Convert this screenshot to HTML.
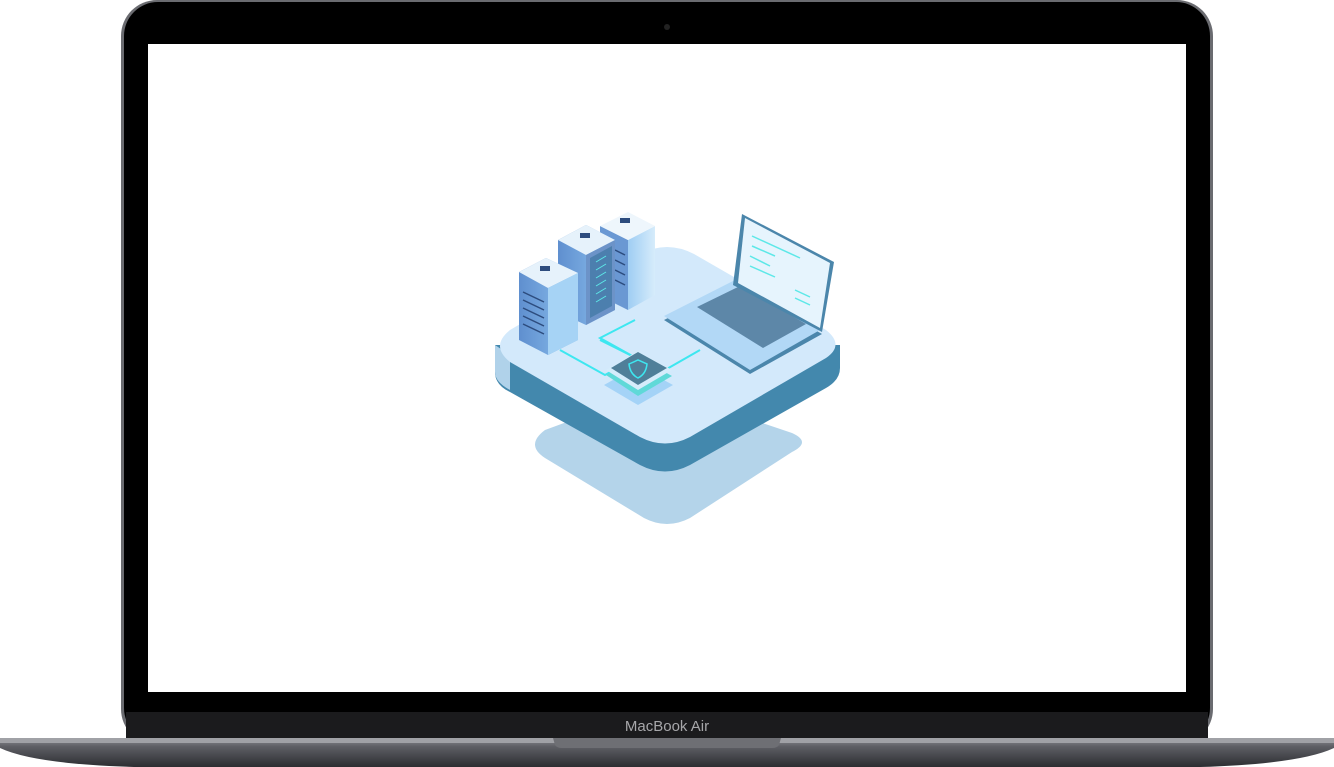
<!DOCTYPE html>
<html><head><meta charset="utf-8"><style>
html,body{margin:0;padding:0;background:#fff;width:1334px;height:767px;overflow:hidden;font-family:"Liberation Sans",sans-serif}
</style></head><body>
<svg width="1334" height="767" viewBox="0 0 1334 767" xmlns="http://www.w3.org/2000/svg" style="position:absolute;left:0;top:0">
<defs>
<linearGradient id="base" x1="0" y1="0" x2="0" y2="1">
<stop offset="0" stop-color="#8c8d92"/><stop offset="0.3" stop-color="#5d5e64"/><stop offset="1" stop-color="#2c2d31"/></linearGradient>
<linearGradient id="srv" x1="0" y1="0" x2="1" y2="0">
<stop offset="0" stop-color="#5f8fcf"/><stop offset="1" stop-color="#8ec2ef"/></linearGradient>
<linearGradient id="srv2" x1="0" y1="0" x2="1" y2="0">
<stop offset="0" stop-color="#9fcdf3"/><stop offset="1" stop-color="#d6ecfb"/></linearGradient>
</defs>
<rect x="121" y="0" width="1092" height="745" rx="36" fill="#6a6b70"/>
<rect x="124" y="2" width="1086" height="740" rx="34" fill="#000"/>
<rect x="126" y="712" width="1082" height="28" fill="#1b1b1d"/>
<rect x="148" y="44" width="1038" height="648" fill="#fff"/>
<circle cx="667" cy="27" r="3" fill="#222"/>
<text x="667" y="731" text-anchor="middle" font-size="15" fill="#a7a7aa" font-family="Liberation Sans,sans-serif">MacBook Air</text>
<path d="M0 738 L1334 738 L1334 748 Q1300 764 1200 767 L134 767 Q34 764 0 748 Z" fill="url(#base)"/>
<rect x="0" y="738" width="1334" height="5" fill="#a0a1a6"/>
<path d="M553 738 L781 738 L779 745 Q777 748 772 748 L562 748 Q557 748 555 745 Z" fill="#6e6f74"/>
<path d="M545 430 L640 395 Q667 388 694 400 L792 433 Q812 442 792 452 L690 518 Q667 530 644 518 L545 458 Q525 445 545 430 Z" fill="#b4d4ea"/>
<path d="M495 345 L495 372 Q495 385 510 392 L640 465 Q665 478 690 465 L826 388 Q840 380 840 368 L840 345 Z" fill="#4388ad"/>
<path d="M495 345 L495 372 Q495 382 510 390 L510 355 Z" fill="#b0d2ea"/>
<path d="M510 330 L640 254 Q667 240 694 254 L826 330 Q845 345 826 358 L690 437 Q665 450 640 437 L510 362 Q490 346 510 330 Z" fill="#d3e9fb"/>
<g stroke="#3de7f0" stroke-width="2" fill="none">
<path d="M560 350 L605 375 L636 358 L600 340"/>
<path d="M636 358 L600 338 L635 320"/>
<path d="M665 370 L700 350"/>
</g>
<path d="M604 385 L638 366 L673 385 L638 405 Z" fill="#9fd0f6" opacity="0.9"/>
<path d="M606 375 L638 357 L672 376 L638 396 Z" fill="#5fd9d8"/>
<path d="M606 370 L638 351 L672 370 L638 390 Z" fill="#d5ecfb"/>
<path d="M611 368 L638 352 L667 368 L638 385 Z" fill="#4f7f99"/>
<path d="M629 364 L638 360 L647 364 Q646 374 638 378 Q630 374 629 364 Z" fill="none" stroke="#3de7f0" stroke-width="1.5"/>
<!-- back server -->
<path d="M600 226 L628 240 L628 310 L600 296 Z" fill="#6a98d3"/>
<path d="M628 240 L655 226 L655 295 L628 310 Z" fill="url(#srv2)"/>
<path d="M600 226 L628 212 L655 226 L628 240 Z" fill="#eef6fc"/>
<g stroke="#2d4c7e" stroke-width="1.5"><line x1="615" y1="250" x2="625" y2="255"/><line x1="615" y1="260" x2="625" y2="265"/><line x1="615" y1="270" x2="625" y2="275"/><line x1="615" y1="280" x2="625" y2="285"/></g>
<path d="M558 240 L586 225 L615 240 L615 310 L586 325 L558 312 Z" fill="url(#srv)"/>
<path d="M558 240 L586 225 L615 240 L586 255 Z" fill="#e6f2fb"/>
<path d="M586 255 L615 240 L615 310 L586 325 Z" fill="#6c93c8"/>
<path d="M590 258 L612 246 L612 306 L590 318 Z" fill="#4c7fae"/>
<g stroke="#5de8e8" stroke-width="1"><line x1="596" y1="262" x2="606" y2="256"/><line x1="596" y1="270" x2="606" y2="264"/><line x1="596" y1="278" x2="606" y2="272"/><line x1="596" y1="286" x2="606" y2="280"/><line x1="596" y1="294" x2="606" y2="288"/><line x1="596" y1="302" x2="606" y2="296"/></g>
<path d="M519 272 L546 258 L578 273 L578 340 L548 355 L519 340 Z" fill="url(#srv)"/>
<path d="M519 272 L546 258 L578 273 L548 288 Z" fill="#e6f2fb"/>
<path d="M548 288 L578 273 L578 340 L548 355 Z" fill="#a6d3f5"/>
<g stroke="#2d4c7e" stroke-width="1.5"><line x1="523" y1="292" x2="544" y2="302"/><line x1="523" y1="300" x2="544" y2="310"/><line x1="523" y1="308" x2="544" y2="318"/><line x1="523" y1="316" x2="544" y2="326"/><line x1="523" y1="324" x2="544" y2="334"/></g>
<g fill="#2d4c7e"><rect x="540" y="266" width="10" height="5"/><rect x="580" y="233" width="10" height="5"/><rect x="620" y="218" width="10" height="5"/></g>
<path d="M664 320 L735 284 L822 334 L750 374 Z" fill="#4b86ab"/>
<path d="M664 316 L735 280 L820 330 L750 370 Z" fill="#b2d8f6"/>
<path d="M697 307 L740 286 L806 324 L763 348 Z" fill="#5d87a8"/>
<path d="M733 285 L742 214 L834 262 L822 332 Z" fill="#4b86ab"/>
<path d="M738 283 L745 218 L830 263 L820 328 Z" fill="#e6f4fd"/>
<g stroke="#5de8e8" stroke-width="1.5"><line x1="752" y1="236" x2="800" y2="258"/><line x1="752" y1="246" x2="775" y2="256"/><line x1="750" y1="256" x2="770" y2="266"/><line x1="750" y1="266" x2="775" y2="277"/><line x1="795" y1="290" x2="810" y2="297"/><line x1="795" y1="298" x2="810" y2="305"/></g>
</svg>
</body></html>
